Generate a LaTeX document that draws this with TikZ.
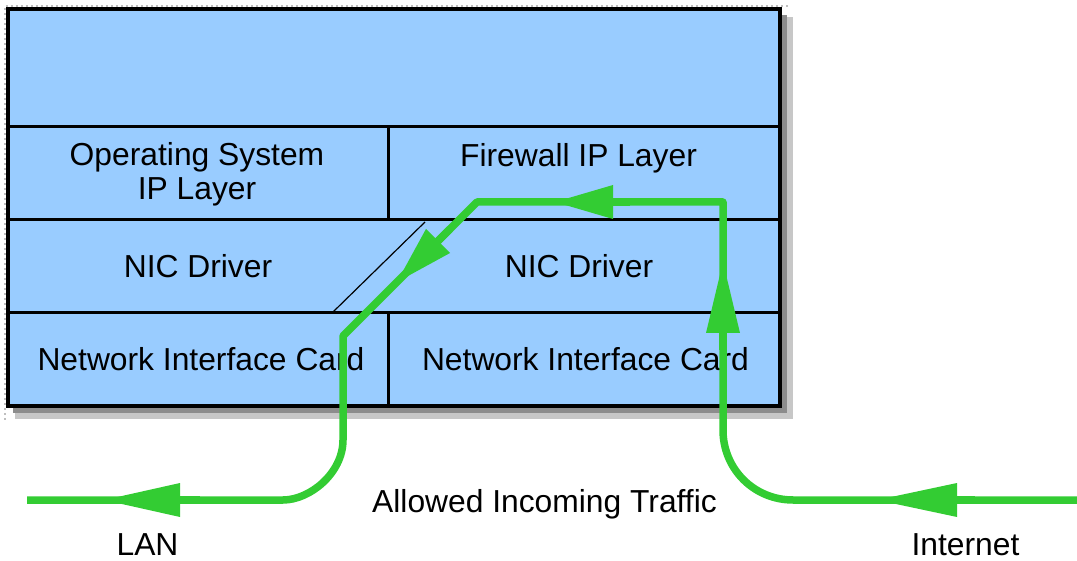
\documentclass[tikz,border=0pt]{standalone}
\usepackage{fontspec}
\setmainfont{Liberation Sans}
\usetikzlibrary{arrows.meta}
\definecolor{cellblue}{HTML}{99CCFF}
\definecolor{flowgreen}{HTML}{33CC33}
\begin{document}
\begin{tikzpicture}[x=1pt,y=-1pt,
  grid/.style={draw=black, line width=3pt},
  thin/.style={draw=black, line width=1.2pt},
  lbl/.style={font=\fontsize{31.8}{34}\selectfont, align=center, inner sep=0pt, text=black, anchor=base},
  flow/.style={draw=flowgreen, line width=7.5pt},
  tipseg/.style={draw=flowgreen, line width=7.5pt, -{Triangle[length=#1,width=34pt,line width=0pt]}}]
\useasboundingbox (0,0) rectangle (1077,561);
% shadow and halo
\draw[black!25, line width=2pt, dash pattern=on 2pt off 3pt] (5,420) -- (5,6) -- (790,6);
\fill[black!22] (15,17) rectangle (793,419);
\fill[black!45] (13,15) rectangle (787,413);
% cells
\fill[cellblue] (8,9) rectangle (780,406);
\draw[grid] (8,127) -- (780,127);
\draw[grid] (8,220) -- (780,220);
\draw[grid] (8,313) -- (780,313);
\draw[grid] (388,127) -- (388,220);
\draw[grid] (388,313) -- (388,406);
\draw[thin] (425,222) -- (333,312);
\draw[grid, line width=3.5pt] (8,9) rectangle (780,406);
% labels
\node[lbl] (os) at (197,200) {Operating System\\IP Layer};
\node[lbl] (fw) at (578.5,167) {Firewall IP Layer};
\node[lbl] (nicl) at (198,278) {NIC Driver};
\node[lbl] (nicr) at (579,278) {NIC Driver};
\node[lbl] (cardl) at (201,371) {Network Interface Card};
\node[lbl] (cardr) at (585.5,371) {Network Interface Card};
\node[lbl] (allowed) at (544.5,512) {Allowed Incoming Traffic};
\node[lbl] (lan) at (147.5,555) {LAN};
\node[lbl] (inet) at (965.5,555) {Internet};
% flow path
\coordinate (pin) at (1077,500);
\coordinate (r0) at (793,500);
\coordinate (r1) at (723,430);
\coordinate (r2) at (723,202);
\coordinate (t1) at (477,202);
\coordinate (d1) at (343,336);
\coordinate (l0) at (343,440);
\coordinate (l1) at (283,500);
\coordinate (pout) at (27,500);
\draw[flow, line join=round] (pin) -- (r0) .. controls (754,500) and (723,469) .. (r1)
  -- (r2) -- (t1) -- (d1) -- (l0) .. controls (343,473) and (310,500) .. (l1) -- (pout);
% arrowheads
\coordinate (a1s) at (975,500); \coordinate (a1t) at (877,500);
\coordinate (a2s) at (723,350); \coordinate (a2t) at (723,262);
\coordinate (a3s) at (630,202); \coordinate (a3t) at (555,202);
\coordinate (a4s) at (450,229); \coordinate (a4t) at (397,282);
\coordinate (a5s) at (200,500); \coordinate (a5t) at (104,500);
\draw[tipseg=80pt] (a1s) -- (a1t);
\draw[tipseg=71pt] (a2s) -- (a2t);
\draw[tipseg=58pt] (a3s) -- (a3t);
\draw[tipseg=58pt] (a4s) -- (a4t);
\draw[tipseg=76pt] (a5s) -- (a5t);
\end{tikzpicture}
\end{document}
